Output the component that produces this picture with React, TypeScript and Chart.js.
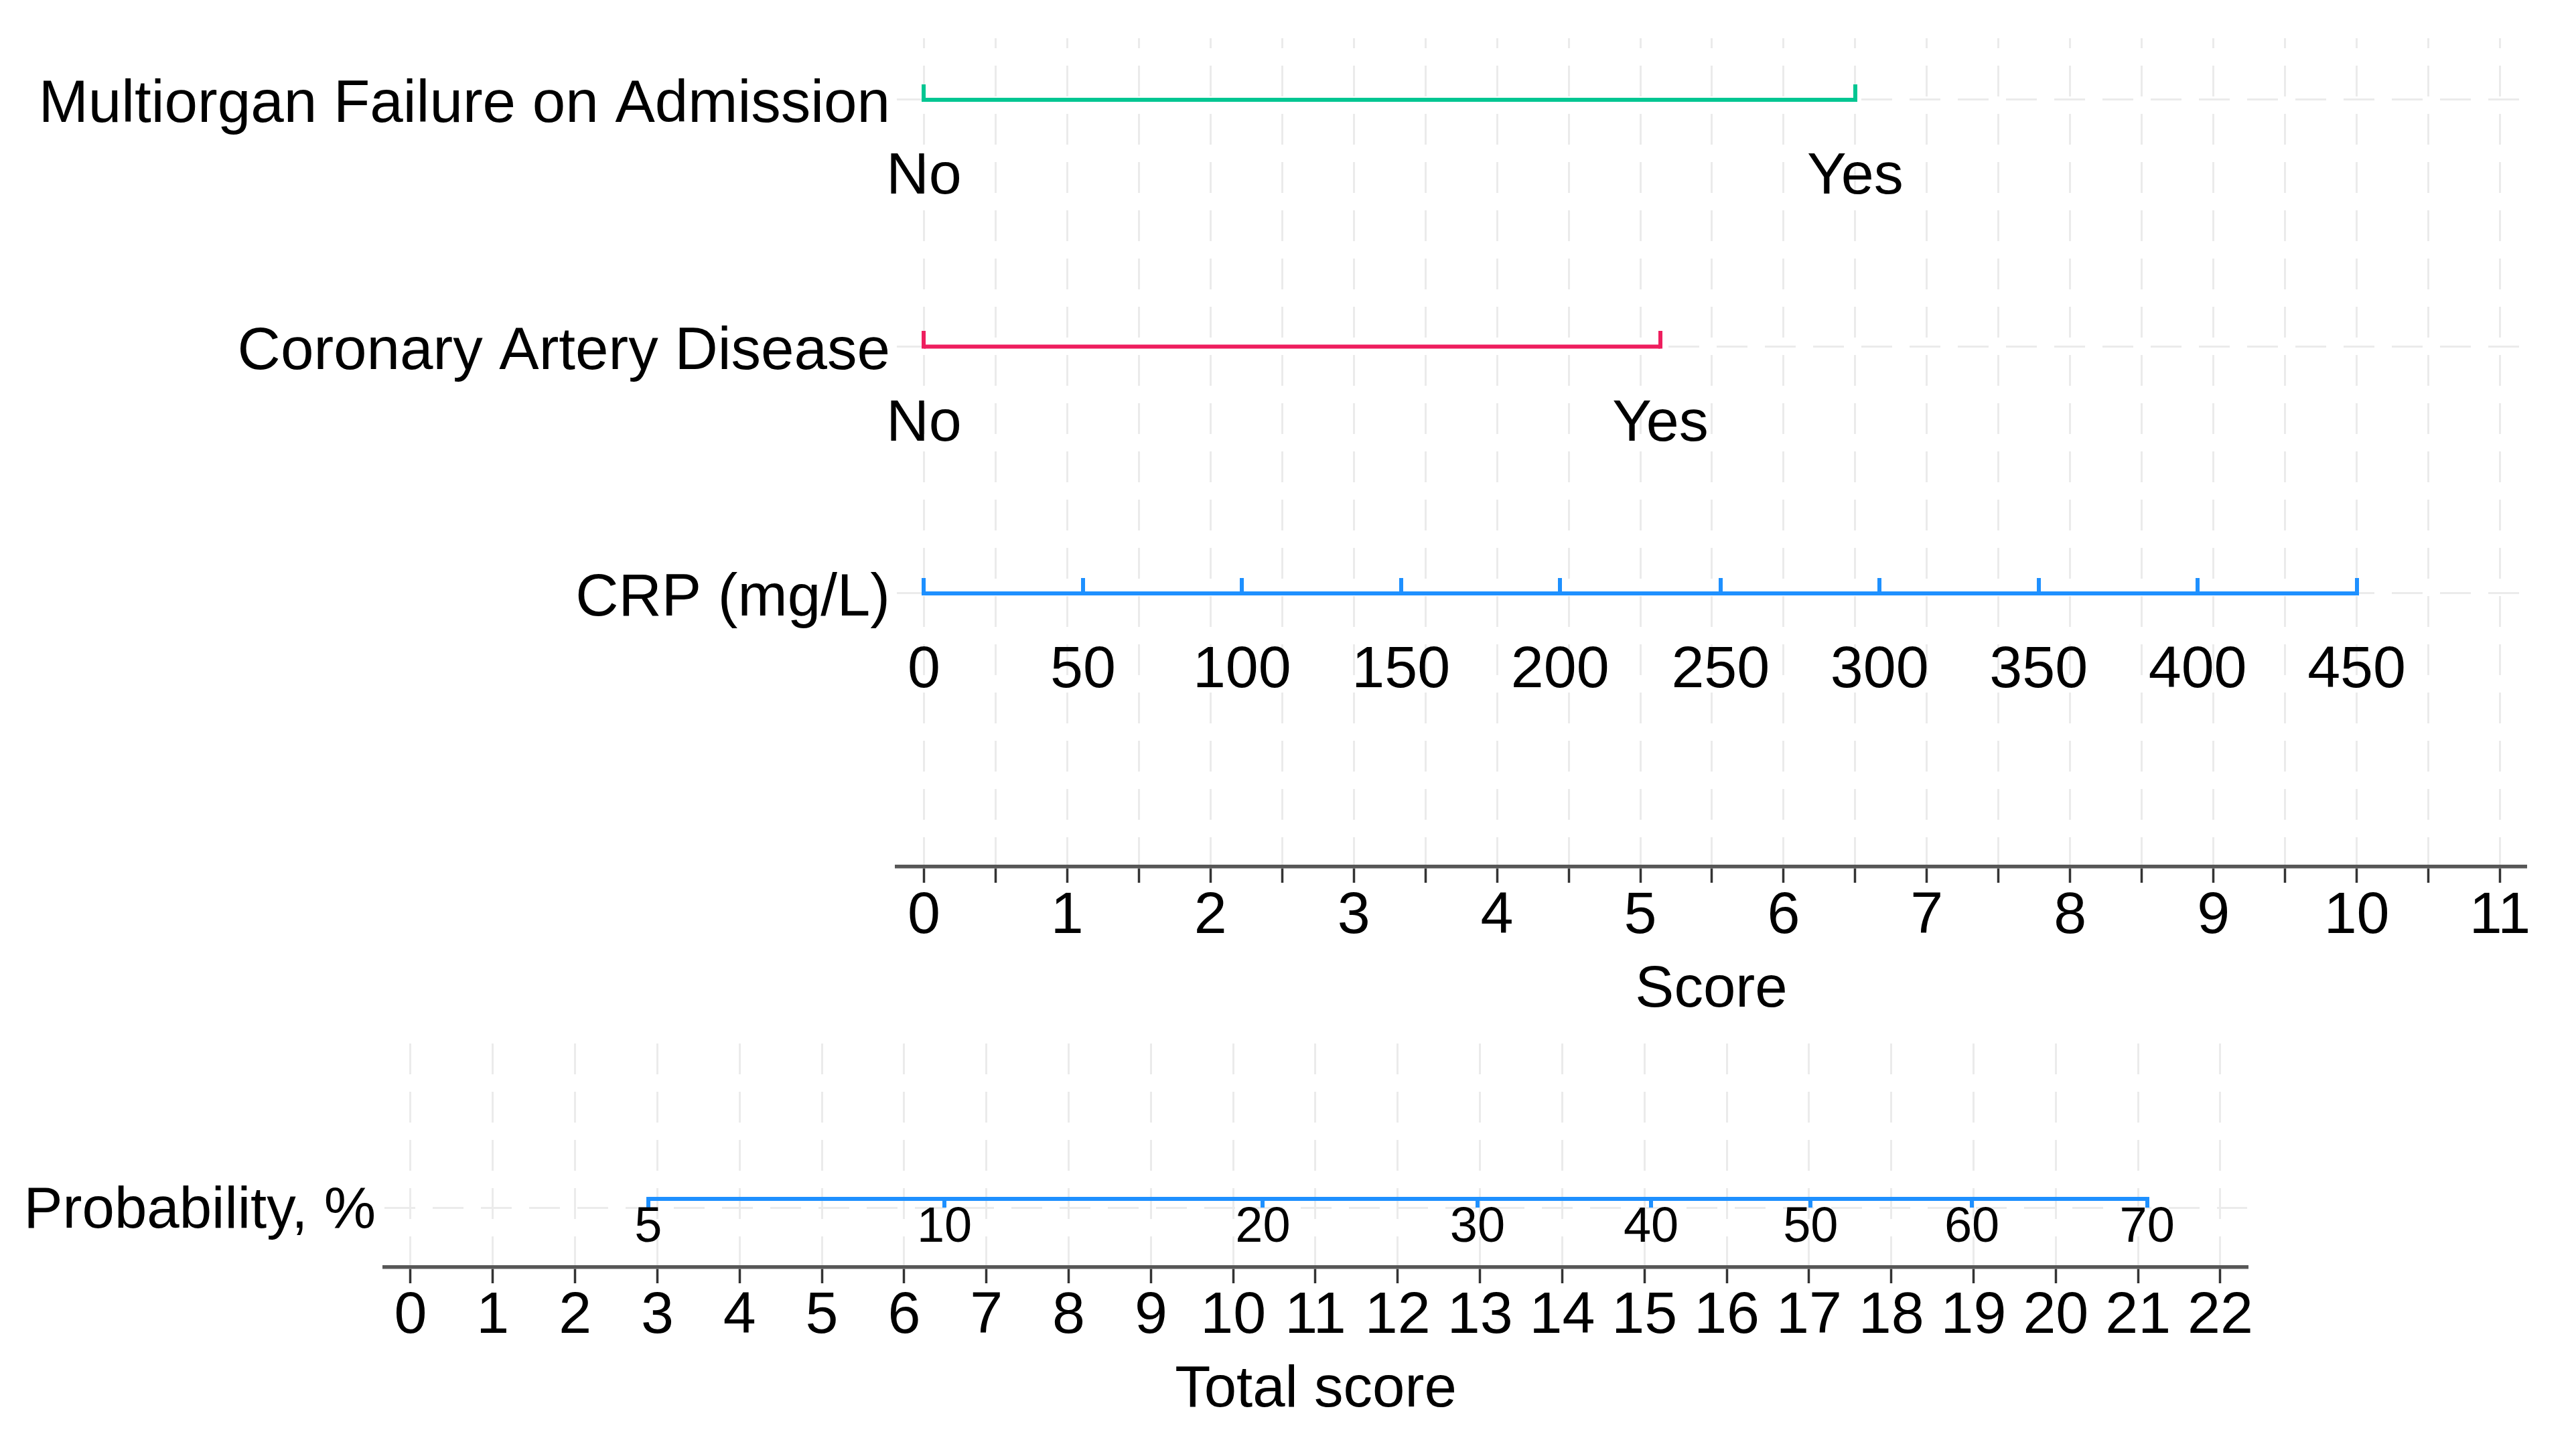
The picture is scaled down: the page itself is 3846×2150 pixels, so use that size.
import React, { useEffect, useRef } from 'react';
import { Chart, registerables } from 'chart.js';

Chart.register(...registerables);

// ---------------- data ----------------
const ROW_NAMES = ['Multiorgan Failure on Admission', 'Coronary Artery Disease', 'CRP (mg/L)'];
const MOF_LEVELS = ['No', 'Yes'];
const MOF_POINTS = [0, 6.5];
const CAD_LEVELS = ['No', 'Yes'];
const CAD_POINTS = [0, 5.14];
const CRP_LEVELS = ['0', '50', '100', '150', '200', '250', '300', '350', '400', '450'];
const CRP_POINTS = [0, 1.11, 2.22, 3.33, 4.44, 5.56, 6.67, 7.78, 8.89, 10];
const SCORE_TICKS = [0, 0.5, 1, 1.5, 2, 2.5, 3, 3.5, 4, 4.5, 5, 5.5, 6, 6.5, 7, 7.5, 8, 8.5, 9, 9.5, 10, 10.5, 11];
const PROB_ROW_NAME = 'Probability, %';
const PROB_LEVELS = ['5', '10', '20', '30', '40', '50', '60', '70'];
const PROB_TOTALS = [2.89, 6.49, 10.36, 12.97, 15.08, 17.02, 18.98, 21.11];
const TOTAL_TICKS = [0, 1, 2, 3, 4, 5, 6, 7, 8, 9, 10, 11, 12, 13, 14, 15, 16, 17, 18, 19, 20, 21, 22];

// ---------------- layout & styles ----------------
const W = 3846;
const TOP_H = 1530;
const BOT_H = 620;
const ROW_Y = [3, 2, 1];
const PROB_ROW_Y = 1;
const PROB_LINE_Y = 1.146;
const FONT = '"Liberation Sans", Arial, Helvetica, sans-serif';
const GREEN = '#00C692';
const RED = '#EE1E5E';
const BLUE = '#1E90FF';
const GRID = '#EBEBEB';
const AXIS = '#575757';
const TICK = '#333333';
const LINE_W = 6;

Chart.defaults.font.family = FONT;
Chart.defaults.color = '#000000';

function makeTick(color: string, length: number, width: number, up: boolean) {
  const c = document.createElement('canvas');
  c.width = width;
  c.height = length * 2;
  const g = c.getContext('2d')!;
  g.fillStyle = color;
  if (up) g.fillRect(0, 0, width, length + width / 2);
  else g.fillRect(0, length - width / 2, width, length + width / 2);
  return c;
}

const levelLabelPlugin = {
  id: 'levelLabels',
  afterDatasetsDraw(chart: any) {
    const ctx = chart.ctx;
    chart.data.datasets.forEach((ds: any, di: number) => {
      const labels: string[] | undefined = ds.levelLabels;
      if (!labels) return;
      const meta = chart.getDatasetMeta(di);
      ctx.save();
      ctx.font = `${ds.labelSize}px ${FONT}`;
      ctx.fillStyle = '#000000';
      ctx.textAlign = 'center';
      ctx.textBaseline = 'middle';
      meta.data.forEach((el: any, i: number) => {
        ctx.fillText(labels[i], el.x, el.y + ds.labelOffset);
      });
      ctx.restore();
    });
  },
};

function lineDataset(label: string, xs: number[], y: number, color: string, levels: string[], up: boolean, tickLen: number, offset: number, size: number) {
  return {
    label,
    data: xs.map((x) => ({ x, y })),
    showLine: true,
    borderColor: color,
    backgroundColor: color,
    borderWidth: LINE_W,
    borderCapStyle: 'butt',
    tension: 0,
    pointStyle: makeTick(color, tickLen, LINE_W, up),
    pointRadius: 3,
    levelLabels: levels,
    labelOffset: offset,
    labelSize: size,
  } as any;
}

export default function App() {
  const topRef = useRef<HTMLCanvasElement>(null);
  const botRef = useRef<HTMLCanvasElement>(null);

  useEffect(() => {
    const top = new Chart(topRef.current!, {
      type: 'scatter',
      data: {
        datasets: [
          lineDataset(ROW_NAMES[0], MOF_POINTS, ROW_Y[0], GREEN, MOF_LEVELS, true, 23, 116, 88),
          lineDataset(ROW_NAMES[1], CAD_POINTS, ROW_Y[1], RED, CAD_LEVELS, true, 23, 116, 88),
          lineDataset(ROW_NAMES[2], CRP_POINTS, ROW_Y[2], BLUE, CRP_LEVELS, true, 23, 116, 88),
        ],
      },
      options: {
        responsive: false,
        animation: false,
        events: [],
        layout: { padding: { left: 0, top: 57, right: 75, bottom: 0 } },
        plugins: { legend: { display: false }, tooltip: { enabled: false } },
        scales: {
          x: {
            type: 'linear',
            position: 'bottom',
            min: -0.189,
            max: 11.18,
            afterBuildTicks: (s: any) => { s.ticks = SCORE_TICKS.map((v) => ({ value: v })); },
            afterFit: (s: any) => { s.height = 236; },
            grid: { color: GRID, lineWidth: 3, drawTicks: true, tickLength: 24, tickWidth: 3.5, tickColor: TICK },
            border: { display: true, color: AXIS, width: 5.5, dash: [46, 26], dashOffset: 31 },
            ticks: {
              autoSkip: false, maxRotation: 0, minRotation: 0, padding: 6.5, color: '#000000',
              font: { size: 88, lineHeight: 1 },
              callback: (v: any) => (Number.isInteger(v) ? String(v) : ''),
            },
            title: { display: true, text: 'Score', color: '#000000', font: { size: 87, lineHeight: 1 }, padding: { top: 0, bottom: 7 } },
          },
          y: {
            type: 'linear',
            position: 'left',
            min: -0.1072,
            max: 3.2496,
            afterBuildTicks: (s: any) => { s.ticks = ROW_Y.map((v) => ({ value: v })); },
            afterFit: (s: any) => { s.width = 1339; },
            grid: { color: GRID, lineWidth: 3, drawTicks: false },
            border: { display: false, dash: [46, 26], dashOffset: 0 },
            ticks: {
              padding: 10, labelOffset: 8.5, color: '#000000', font: { size: 89, lineHeight: 0.3 },
              callback: (v: any) => ROW_NAMES[ROW_Y.indexOf(v)] ?? '',
            },
          },
        },
      } as any,
      plugins: [levelLabelPlugin],
    });

    const bot = new Chart(botRef.current!, {
      type: 'scatter',
      data: {
        datasets: [
          lineDataset(PROB_ROW_NAME, PROB_TOTALS, PROB_LINE_Y, BLUE, PROB_LEVELS, false, 13, 44, 74),
        ],
      },
      options: {
        responsive: false,
        animation: false,
        events: [],
        layout: { padding: { left: 0, top: 28, right: 491, bottom: 0 } },
        plugins: { legend: { display: false }, tooltip: { enabled: false } },
        scales: {
          x: {
            type: 'linear',
            position: 'bottom',
            min: -0.3175,
            max: 22.3257,
            afterBuildTicks: (s: any) => { s.ticks = TOTAL_TICKS.map((v) => ({ value: v })); },
            afterFit: (s: any) => { s.height = 258; },
            grid: { color: GRID, lineWidth: 3, drawTicks: true, tickLength: 24, tickWidth: 3.5, tickColor: TICK },
            border: { display: true, color: AXIS, width: 5.5, dash: [46, 26], dashOffset: 0 },
            ticks: {
              autoSkip: false, maxRotation: 0, minRotation: 0, padding: 6, color: '#000000',
              font: { size: 88, lineHeight: 1 },
              callback: (v: any) => String(v),
            },
            title: { display: true, text: 'Total score', color: '#000000', font: { size: 87, lineHeight: 1 }, padding: { top: 0, bottom: 30 } },
          },
          y: {
            type: 'linear',
            position: 'left',
            min: 0,
            max: 3.753,
            afterBuildTicks: (s: any) => { s.ticks = [{ value: PROB_ROW_Y }]; },
            afterFit: (s: any) => { s.width = 574; },
            grid: { color: GRID, lineWidth: 3, drawTicks: false },
            border: { display: false, dash: [46, 26], dashOffset: 0 },
            ticks: {
              padding: 13, labelOffset: 6, color: '#000000', font: { size: 87, lineHeight: 0.3 },
              callback: () => PROB_ROW_NAME,
            },
          },
        },
      } as any,
      plugins: [levelLabelPlugin],
    });

    return () => {
      top.destroy();
      bot.destroy();
    };
  }, []);

  return (
    <div style={{ position: 'absolute', left: 0, top: 0, width: W, height: TOP_H + BOT_H, background: '#ffffff', overflow: 'hidden' }}>
      <canvas ref={topRef} width={W} height={TOP_H} style={{ position: 'absolute', left: 0, top: 0 }} />
      <canvas ref={botRef} width={W} height={BOT_H} style={{ position: 'absolute', left: 0, top: TOP_H }} />
    </div>
  );
}
